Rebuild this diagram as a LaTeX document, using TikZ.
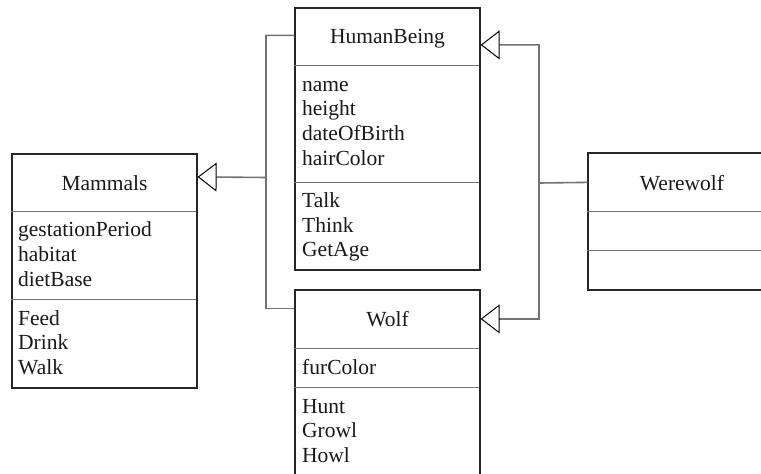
\documentclass[tikz,border=0pt]{standalone}
\usepackage{fontspec}
\setmainfont{Liberation Serif}
\usetikzlibrary{arrows.meta}
\begin{document}
\begin{tikzpicture}[x=1pt,y=-1pt,
  font=\fontsize{21.5}{24.7}\selectfont,
  classbox/.style={draw=black!85, line width=1.2pt, fill=white, inner sep=0pt, minimum width=185pt},
  divider/.style={draw=black!55, line width=1.6pt},
  txt/.style={inner sep=0pt, anchor=base west, text=black!90},
  ttl/.style={inner sep=0pt, anchor=base, text=black!90},
  link/.style={draw=black!55, line width=1.6pt},
  inherit/.style={link, -{Triangle[open, length=19pt, width=29pt, line width=1pt, color=black]}}
]
\clip (0,0) rectangle (761,474);
\fill[white] (0,0) rectangle (761,474);

% class boxes
\node[classbox, minimum height=262pt] (hb) at (387.5,139) {};
\node[classbox, minimum height=234pt] (mm) at (104.5,271) {};
\node[classbox, minimum height=200pt] (wf) at (387.5,390) {};
\node[classbox, minimum height=137pt] (ww) at (680.5,221.5) {};

% compartment dividers
\draw[divider] ([yshift=-58pt]hb.north west) -- ++(185,0);
\draw[divider] ([yshift=-175pt]hb.north west) -- ++(185,0);
\draw[divider] ([yshift=-58pt]mm.north west) -- ++(185,0);
\draw[divider] ([yshift=-146pt]mm.north west) -- ++(185,0);
\draw[divider] ([yshift=-59pt]wf.north west) -- ++(185,0);
\draw[divider] ([yshift=-98pt]wf.north west) -- ++(185,0);
\draw[divider] ([yshift=-59pt]ww.north west) -- ++(185,0);
\draw[divider] ([yshift=-98pt]ww.north west) -- ++(185,0);

% HumanBeing
\node[ttl] (hbT) at (387.5,43) {HumanBeing};
\node[txt] (hbA1) at (302,91) {name};
\node[txt] (hbA2) at (302,115.7) {height};
\node[txt] (hbA3) at (302,140.4) {dateOfBirth};
\node[txt] (hbA4) at (302,165.1) {hairColor};
\node[txt] (hbM1) at (302,207.5) {Talk};
\node[txt] (hbM2) at (302,232.2) {Think};
\node[txt] (hbM3) at (302,256.9) {GetAge};

% Mammals
\node[ttl] (mmT) at (104.5,190) {Mammals};
\node[txt] (mmA1) at (18,236.7) {gestationPeriod};
\node[txt] (mmA2) at (18,261.4) {habitat};
\node[txt] (mmA3) at (18,286.1) {dietBase};
\node[txt] (mmM1) at (18,325) {Feed};
\node[txt] (mmM2) at (18,349.7) {Drink};
\node[txt] (mmM3) at (18,374.4) {Walk};

% Wolf
\node[ttl] (wfT) at (387.5,326) {Wolf};
\node[txt] (wfA1) at (302,374) {furColor};
\node[txt] (wfM1) at (302,413) {Hunt};
\node[txt] (wfM2) at (302,437.7) {Growl};
\node[txt] (wfM3) at (302,462.4) {Howl};

% Werewolf
\node[ttl] (wwT) at (682,190.5) {Werewolf};

% inheritance connectors
\coordinate (wwL) at ([yshift=-30pt]ww.north west);
\coordinate (hbR) at ([yshift=-37.5pt]hb.north east);
\coordinate (wfR) at ([yshift=-29.5pt]wf.north east);
\coordinate (hbL) at ([yshift=-28pt]hb.north west);
\coordinate (wfL) at ([yshift=-19pt]wf.north west);
\coordinate (mmR) at ([yshift=-23.5pt]mm.north east);
\coordinate (rj) at (539,183);
\coordinate (lj) at (266,177.5);

\draw[inherit] (wwL) -- (rj) |- (hbR);
\draw[inherit] (rj) |- (wfR);
\draw[inherit] (hbL) -| (lj) -- (mmR);
\draw[link] (wfL) -| (lj);
\end{tikzpicture}
\end{document}
